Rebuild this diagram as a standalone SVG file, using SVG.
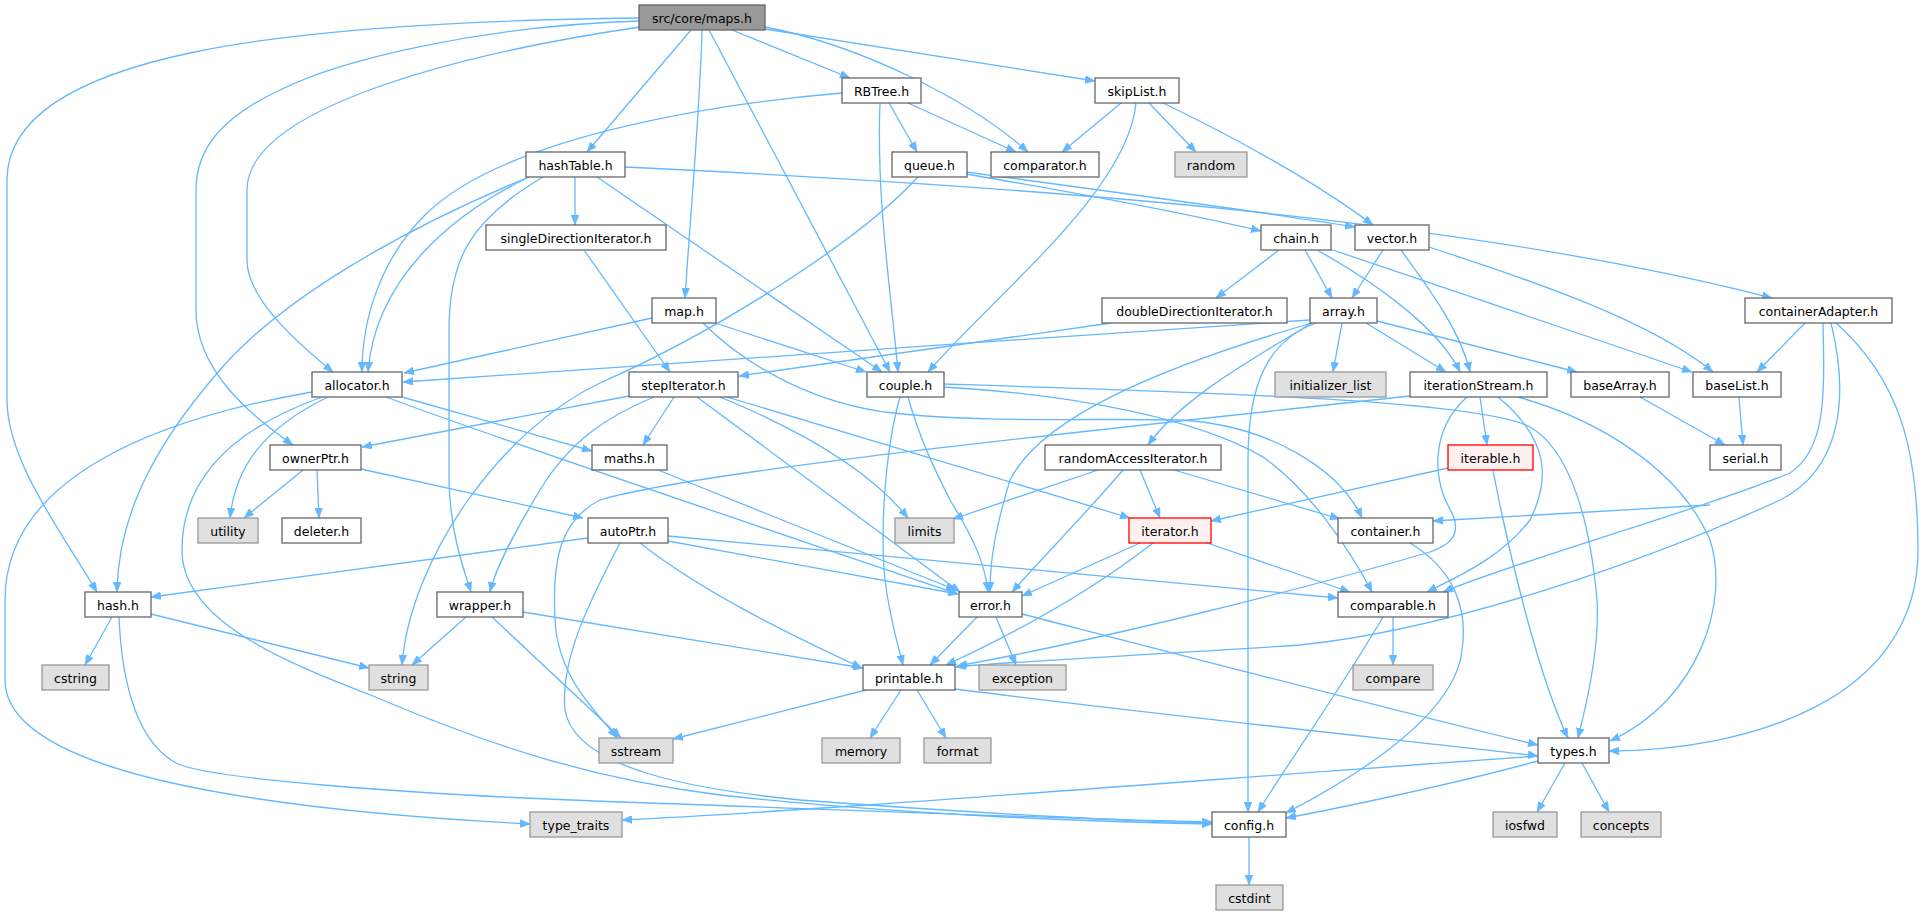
<svg xmlns="http://www.w3.org/2000/svg" width="1925" height="916" viewBox="0 0 1925 916">
<style>
.node rect{fill:#ffffff;stroke:#666666;stroke-width:1.3}
.ext rect{fill:#e0e0e0;stroke:#999999;stroke-width:1.3}
.trunc rect{fill:#fff0f0;stroke:#ff0000;stroke-width:1.3}
.root rect{fill:#999999;stroke:#666666;stroke-width:1.3}
text{font-family:"DejaVu Sans","Liberation Sans",sans-serif;font-size:12.5px;text-anchor:middle;fill:#000000}
.edges path{fill:none;stroke:#63b8ff;stroke-width:1.3;marker-end:url(#arr)}
</style>
<defs>
<marker id="arr" viewBox="0 0 10 8" refX="10" refY="4" markerWidth="10" markerHeight="8" markerUnits="userSpaceOnUse" orient="auto">
<path d="M0,0 L10,4 L0,8 z" fill="#63b8ff" stroke="#63b8ff" stroke-width="0.5"/>
</marker>
</defs>
<rect width="1925" height="916" fill="#ffffff"/>
<g class="edges" id="edges">
<path d="M639,18 C300,22 7,50 7,180 L7,400 C7,460 60,530 97,592"/>
<path d="M639,21 C480,26 340,60 280,90 C220,118 196,150 196,190 L196,310 C196,370 250,415 293,445"/>
<path d="M640,27 C450,55 247,110 247,190 L247,260 C247,300 300,345 333,372"/>
<path d="M691,30 L587,152"/>
<path d="M702,30 C700,110 690,220 685,298"/>
<path d="M709,30 L890,372"/>
<path d="M732,30 L850,78"/>
<path d="M765,27 C860,45 970,100 1028,152"/>
<path d="M765,29 L1095,81"/>
<path d="M842,93 C700,105 500,140 425,215 C380,260 362,320 362,372"/>
<path d="M880,103 C876,200 892,300 898,372"/>
<path d="M889,103 L917,152"/>
<path d="M908,103 L1016,152"/>
<path d="M1121,103 L1062,152"/>
<path d="M1149,103 L1196,152"/>
<path d="M1136,103 C1128,190 1000,290 928,372"/>
<path d="M1163,103 C1240,140 1320,185 1373,225"/>
<path d="M575,177 L575,225"/>
<path d="M597,177 L882,372"/>
<path d="M625,167 C1000,185 1450,215 1772,298"/>
<path d="M529,177 C400,230 280,300 220,370 C150,450 118,520 117,592"/>
<path d="M529,177 C450,215 375,280 368,372"/>
<path d="M543,177 C470,220 449,260 449,330 L449,480 C450,530 462,565 471,592"/>
<path d="M966,174 C1060,190 1180,212 1261,231"/>
<path d="M966,172 C1100,190 1250,210 1355,227"/>
<path d="M918,177 C860,240 720,330 600,383 C500,430 410,560 402,665"/>
<path d="M584,250 L670,372"/>
<path d="M1279,250 L1216,298"/>
<path d="M1305,250 L1332,298"/>
<path d="M1317,250 C1380,285 1440,330 1460,372"/>
<path d="M1330,249 C1450,290 1600,340 1692,372"/>
<path d="M1383,250 L1352,298"/>
<path d="M1401,250 C1430,290 1460,330 1470,372"/>
<path d="M1429,247 C1530,280 1650,320 1713,372"/>
<path d="M652,318 L404,373"/>
<path d="M715,323 L866,372"/>
<path d="M703,323 C750,370 820,405 893,413 C980,423 1100,418 1180,420 C1270,425 1340,470 1362,518"/>
<path d="M1111,323 L739,376"/>
<path d="M1310,320 C1000,340 600,370 403,382"/>
<path d="M1342,323 L1333,372"/>
<path d="M1366,323 L1446,372"/>
<path d="M1377,321 L1577,372"/>
<path d="M1312,323 C1250,360 1180,400 1148,445"/>
<path d="M1312,323 C1150,370 1040,420 1010,480 C995,530 990,560 990,592"/>
<path d="M1316,323 C1270,340 1248,380 1248,460 L1248,812"/>
<path d="M1805,323 L1757,372"/>
<path d="M1823,323 C1825,400 1825,450 1790,473 C1700,510 1520,560 1443,592"/>
<path d="M1831,323 C1850,400 1840,470 1780,500 C1650,560 1450,630 1300,645 C1150,655 1000,662 956,667"/>
<path d="M1836,323 C1900,380 1918,450 1918,550 C1918,700 1750,750 1609,751"/>
<path d="M312,392 C150,420 5,480 5,600 L5,680 C5,780 300,812 530,824"/>
<path d="M328,397 C260,430 235,470 230,518"/>
<path d="M322,397 C230,430 182,480 182,550 C182,620 280,660 373,696 C500,750 600,780 720,795 C900,815 1100,822 1212,824"/>
<path d="M402,397 L592,451"/>
<path d="M386,397 C500,440 800,540 958,594"/>
<path d="M629,396 L362,447"/>
<path d="M674,397 L643,445"/>
<path d="M654,397 C610,415 570,440 540,490 C510,540 495,570 490,592"/>
<path d="M697,397 L960,592"/>
<path d="M720,397 C800,430 870,470 908,518"/>
<path d="M727,397 L1130,518"/>
<path d="M900,397 C885,450 880,530 885,580 C890,620 898,645 903,665"/>
<path d="M908,397 C920,440 935,470 950,500 C975,540 985,565 988,592"/>
<path d="M944,387 C1080,395 1200,420 1263,457 C1310,490 1350,550 1372,592"/>
<path d="M944,384 C1200,392 1480,400 1530,427 C1570,450 1590,520 1597,600 C1600,650 1585,710 1578,738"/>
<path d="M1410,396 C1100,430 700,470 600,500 C560,520 552,560 555,620 C558,680 600,715 617,738"/>
<path d="M1480,397 L1487,445"/>
<path d="M1498,397 C1550,440 1550,480 1530,520 C1500,560 1450,580 1427,592"/>
<path d="M1467,397 C1430,430 1432,480 1452,513 C1462,535 1450,545 1430,552 C1300,590 1100,640 957,666"/>
<path d="M1518,397 C1600,420 1680,470 1710,540 C1730,600 1700,700 1610,741"/>
<path d="M1640,397 L1725,445"/>
<path d="M1739,397 L1743,445"/>
<path d="M303,470 L244,518"/>
<path d="M317,470 L319,518"/>
<path d="M361,469 L583,518"/>
<path d="M658,470 L956,590"/>
<path d="M1098,470 L953,519"/>
<path d="M1123,470 C1080,520 1040,560 1012,592"/>
<path d="M1140,470 L1160,518"/>
<path d="M1174,470 L1340,519"/>
<path d="M1448,468 L1211,521"/>
<path d="M1493,470 C1510,560 1540,680 1568,738"/>
<path d="M1710,505 L1433,521"/>
<path d="M588,538 L151,597"/>
<path d="M668,541 L958,594"/>
<path d="M668,536 L1338,598"/>
<path d="M640,543 C700,590 780,630 862,668"/>
<path d="M620,543 C590,600 560,660 565,710 C575,770 700,790 800,800 C1000,815 1150,822 1212,823"/>
<path d="M1140,543 L1022,596"/>
<path d="M1153,543 C1080,600 1000,640 946,665"/>
<path d="M1207,543 L1350,592"/>
<path d="M1410,543 C1455,570 1468,610 1462,650 C1455,720 1340,785 1286,813"/>
<path d="M112,617 L85,665"/>
<path d="M151,614 L369,668"/>
<path d="M119,617 C122,690 140,745 178,764 C210,778 400,795 650,803 C900,812 1100,820 1212,822"/>
<path d="M466,617 L412,665"/>
<path d="M492,617 L621,738"/>
<path d="M523,612 L863,668"/>
<path d="M977,617 L930,665"/>
<path d="M996,617 L1016,665"/>
<path d="M1022,614 C1200,660 1450,725 1538,745"/>
<path d="M1393,617 L1393,665"/>
<path d="M1383,617 C1340,690 1290,760 1258,812"/>
<path d="M866,690 L673,739"/>
<path d="M901,690 L870,738"/>
<path d="M917,690 L946,738"/>
<path d="M955,689 C1200,720 1450,745 1538,756"/>
<path d="M1538,756 C1200,780 800,812 622,820"/>
<path d="M1538,761 C1450,785 1330,810 1286,818"/>
<path d="M1565,763 L1537,812"/>
<path d="M1582,763 L1609,812"/>
<path d="M1249,837 L1249,885"/>
</g>
<g id="n_maps" class="root"><rect x="639" y="5" width="126" height="25"/><text x="702" y="22.5">src/core/maps.h</text></g>
<g id="n_RBTree" class="node"><rect x="842" y="78" width="79" height="25"/><text x="881.5" y="95.5">RBTree.h</text></g>
<g id="n_skipList" class="node"><rect x="1095" y="78" width="84" height="25"/><text x="1137" y="95.5">skipList.h</text></g>
<g id="n_hashTable" class="node"><rect x="526" y="152" width="99" height="25"/><text x="575.5" y="169.5">hashTable.h</text></g>
<g id="n_queue" class="node"><rect x="892" y="152" width="75" height="25"/><text x="929.5" y="169.5">queue.h</text></g>
<g id="n_comparator" class="node"><rect x="991" y="152" width="108" height="25"/><text x="1045" y="169.5">comparator.h</text></g>
<g id="n_random" class="ext"><rect x="1175" y="152" width="72" height="25"/><text x="1211" y="169.5">random</text></g>
<g id="n_singleDirectionIterator" class="node"><rect x="486" y="225" width="180" height="25"/><text x="576" y="242.5">singleDirectionIterator.h</text></g>
<g id="n_chain" class="node"><rect x="1261" y="225" width="70" height="25"/><text x="1296" y="242.5">chain.h</text></g>
<g id="n_vector" class="node"><rect x="1355" y="225" width="74" height="25"/><text x="1392" y="242.5">vector.h</text></g>
<g id="n_map" class="node"><rect x="652" y="298" width="64" height="25"/><text x="684" y="315.5">map.h</text></g>
<g id="n_doubleDirectionIterator" class="node"><rect x="1102" y="298" width="185" height="25"/><text x="1194.5" y="315.5">doubleDirectionIterator.h</text></g>
<g id="n_array" class="node"><rect x="1310" y="298" width="67" height="25"/><text x="1343.5" y="315.5">array.h</text></g>
<g id="n_containerAdapter" class="node"><rect x="1745" y="298" width="147" height="25"/><text x="1818.5" y="315.5">containerAdapter.h</text></g>
<g id="n_allocator" class="node"><rect x="312" y="372" width="90" height="25"/><text x="357" y="389.5">allocator.h</text></g>
<g id="n_stepIterator" class="node"><rect x="629" y="372" width="109" height="25"/><text x="683.5" y="389.5">stepIterator.h</text></g>
<g id="n_couple" class="node"><rect x="867" y="372" width="77" height="25"/><text x="905.5" y="389.5">couple.h</text></g>
<g id="n_initializer_list" class="ext"><rect x="1275" y="372" width="111" height="25"/><text x="1330.5" y="389.5">initializer_list</text></g>
<g id="n_iterationStream" class="node"><rect x="1410" y="372" width="137" height="25"/><text x="1478.5" y="389.5">iterationStream.h</text></g>
<g id="n_baseArray" class="node"><rect x="1571" y="372" width="98" height="25"/><text x="1620" y="389.5">baseArray.h</text></g>
<g id="n_baseList" class="node"><rect x="1693" y="372" width="88" height="25"/><text x="1737" y="389.5">baseList.h</text></g>
<g id="n_ownerPtr" class="node"><rect x="270" y="445" width="91" height="25"/><text x="315.5" y="462.5">ownerPtr.h</text></g>
<g id="n_maths" class="node"><rect x="592" y="445" width="75" height="25"/><text x="629.5" y="462.5">maths.h</text></g>
<g id="n_randomAccessIterator" class="node"><rect x="1045" y="445" width="176" height="25"/><text x="1133" y="462.5">randomAccessIterator.h</text></g>
<g id="n_iterable" class="trunc"><rect x="1448" y="445" width="85" height="25"/><text x="1490.5" y="462.5">iterable.h</text></g>
<g id="n_serial" class="node"><rect x="1710" y="445" width="71" height="25"/><text x="1745.5" y="462.5">serial.h</text></g>
<g id="n_utility" class="ext"><rect x="198" y="518" width="60" height="25"/><text x="228" y="535.5">utility</text></g>
<g id="n_deleter" class="node"><rect x="282" y="518" width="79" height="25"/><text x="321.5" y="535.5">deleter.h</text></g>
<g id="n_autoPtr" class="node"><rect x="588" y="518" width="80" height="25"/><text x="628" y="535.5">autoPtr.h</text></g>
<g id="n_limits" class="ext"><rect x="895" y="518" width="59" height="25"/><text x="924.5" y="535.5">limits</text></g>
<g id="n_iterator" class="trunc"><rect x="1129" y="518" width="82" height="25"/><text x="1170" y="535.5">iterator.h</text></g>
<g id="n_container" class="node"><rect x="1338" y="518" width="95" height="25"/><text x="1385.5" y="535.5">container.h</text></g>
<g id="n_hash" class="node"><rect x="85" y="592" width="66" height="25"/><text x="118" y="609.5">hash.h</text></g>
<g id="n_wrapper" class="node"><rect x="437" y="592" width="86" height="25"/><text x="480" y="609.5">wrapper.h</text></g>
<g id="n_error" class="node"><rect x="959" y="592" width="63" height="25"/><text x="990.5" y="609.5">error.h</text></g>
<g id="n_comparable" class="node"><rect x="1338" y="592" width="110" height="25"/><text x="1393" y="609.5">comparable.h</text></g>
<g id="n_cstring" class="ext"><rect x="42" y="665" width="67" height="25"/><text x="75.5" y="682.5">cstring</text></g>
<g id="n_string" class="ext"><rect x="369" y="665" width="59" height="25"/><text x="398.5" y="682.5">string</text></g>
<g id="n_printable" class="node"><rect x="863" y="665" width="92" height="25"/><text x="909" y="682.5">printable.h</text></g>
<g id="n_exception" class="ext"><rect x="979" y="665" width="87" height="25"/><text x="1022.5" y="682.5">exception</text></g>
<g id="n_compare" class="ext"><rect x="1353" y="665" width="80" height="25"/><text x="1393" y="682.5">compare</text></g>
<g id="n_sstream" class="ext"><rect x="599" y="738" width="74" height="25"/><text x="636" y="755.5">sstream</text></g>
<g id="n_memory" class="ext"><rect x="822" y="738" width="78" height="25"/><text x="861" y="755.5">memory</text></g>
<g id="n_format" class="ext"><rect x="924" y="738" width="67" height="25"/><text x="957.5" y="755.5">format</text></g>
<g id="n_types" class="node"><rect x="1538" y="738" width="71" height="25"/><text x="1573.5" y="755.5">types.h</text></g>
<g id="n_type_traits" class="ext"><rect x="530" y="812" width="92" height="25"/><text x="576" y="829.5">type_traits</text></g>
<g id="n_config" class="node"><rect x="1212" y="812" width="74" height="25"/><text x="1249" y="829.5">config.h</text></g>
<g id="n_iosfwd" class="ext"><rect x="1493" y="812" width="64" height="25"/><text x="1525" y="829.5">iosfwd</text></g>
<g id="n_concepts" class="ext"><rect x="1581" y="812" width="80" height="25"/><text x="1621" y="829.5">concepts</text></g>
<g id="n_cstdint" class="ext"><rect x="1216" y="885" width="67" height="25"/><text x="1249.5" y="902.5">cstdint</text></g>
</svg>
